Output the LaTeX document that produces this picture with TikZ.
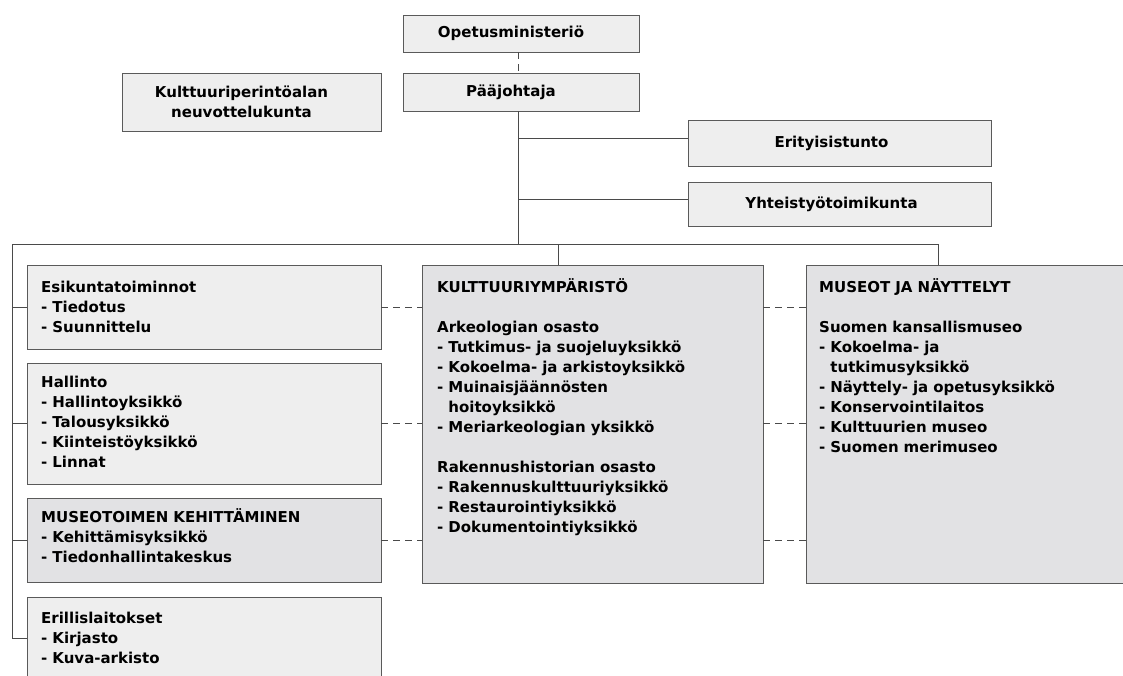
\documentclass[tikz,border=0pt]{standalone}
\usepackage{fontspec}
\setmainfont{DejaVu Sans}
\usetikzlibrary{calc}

\definecolor{boxfill}{HTML}{EEEEEE}
\definecolor{boxdark}{HTML}{E2E2E4}
\definecolor{boxline}{HTML}{5A5A5A}
\definecolor{linecol}{HTML}{4A4A4A}

\newcommand\orgfont{\fontsize{15pt}{20pt}\selectfont\bfseries}

\tikzset{
  unit/.style={draw=boxline, fill=boxfill, line width=.9pt, inner sep=0pt},
  unitdark/.style={unit, fill=boxdark},
  toptxt/.style={align=center, inner sep=0pt, font=\orgfont},
  listtxt/.style={anchor=base west, align=left, text width=330pt, inner sep=0pt, font=\orgfont},
  link/.style={draw=linecol, line width=.9pt},
  dlink/.style={link, dash pattern=on 7pt off 5pt},
}

\begin{document}
\begin{tikzpicture}[x=1pt,y=-1pt]
    \useasboundingbox (0,0) rectangle (1123,675);
    \clip (0,0) rectangle (1123,675);

    % johto
    \node[unit, minimum width=236pt, minimum height=37pt] (opm) at (521,33.5) {};
    \node[toptxt] (opmtxt) at ([xshift=-10pt]opm.center) {Opetusministeriö};
    \node[unit, minimum width=236pt, minimum height=38pt] (paaj) at (521,92) {};
    \node[toptxt] (paajtxt) at ([xshift=-10pt]paaj.center) {Pääjohtaja};
    \node[unit, minimum width=259pt, minimum height=58pt] (neuv) at (251.5,102) {};
    \node[toptxt] (neuvtxt) at ([xshift=-10pt]neuv.center) {Kulttuuriperintöalan\\neuvottelukunta};
    \node[unit, minimum width=303pt, minimum height=46pt] (erit) at (839.5,143) {};
    \node[toptxt] (erittxt) at ([xshift=-8pt]erit.center) {Erityisistunto};
    \node[unit, minimum width=303pt, minimum height=44pt] (yht) at (839.5,204) {};
    \node[toptxt] (yhttxt) at ([xshift=-8pt]yht.center) {Yhteistyötoimikunta};

    % vasen sarake
    \node[unit, minimum width=354pt, minimum height=84pt] (esik) at (204,307) {};
    \node[listtxt] (esiktxt) at (41,292.5)
      {Esikuntatoiminnot\\- Tiedotus\\- Suunnittelu};
    \node[unit, minimum width=354pt, minimum height=121pt] (hall) at (204,423.5) {};
    \node[listtxt] (halltxt) at (41,387)
      {Hallinto\\- Hallintoyksikkö\\- Talousyksikkö\\- Kiinteistöyksikkö\\- Linnat};
    \node[unitdark, minimum width=354pt, minimum height=84pt] (musk) at (204,540) {};
    \node[listtxt] (musktxt) at (41,522)
      {MUSEOTOIMEN KEHITTÄMINEN\\- Kehittämisyksikkö\\- Tiedonhallintakeskus};
    \node[unit, minimum width=354pt, minimum height=82pt] (eril) at (204,638) {};
    \node[listtxt] (eriltxt) at (41,623)
      {Erillislaitokset\\- Kirjasto\\- Kuva-arkisto};

    % osastot
    \node[unitdark, minimum width=341pt, minimum height=318pt] (kult) at (592.5,424) {};
    \node[listtxt] (kulttxt) at (437,292.5)
      {KULTTUURIYMPÄRISTÖ\\[20pt]
       Arkeologian osasto\\- Tutkimus- ja suojeluyksikkö\\- Kokoelma- ja arkistoyksikkö\\
       - Muinaisjäännösten\\\hphantom{- }hoitoyksikkö\\- Meriarkeologian yksikkö\\[20pt]
       Rakennushistorian osasto\\- Rakennuskulttuuriyksikkö\\- Restaurointiyksikkö\\
       - Dokumentointiyksikkö};
    \node[unitdark, minimum width=344pt, minimum height=318pt] (mus) at (978,424) {};
    \node[listtxt] (mustxt) at (819,292.5)
      {MUSEOT JA NÄYTTELYT\\[20pt]
       Suomen kansallismuseo\\- Kokoelma- ja\\\hphantom{- }tutkimusyksikkö\\
       - Näyttely- ja opetusyksikkö\\- Konservointilaitos\\- Kulttuurien museo\\
       - Suomen merimuseo};

    % yhteydet
    \coordinate (trunk) at (518,244);
    \coordinate (rail) at (12,244);
    \coordinate (kultdrop) at (558,244);
    \coordinate (musdrop) at (938,244);
    \draw[dlink] (opm.south -| trunk) -- (paaj.north -| trunk);
    \draw[link] (paaj.south -| trunk) -- (trunk);
    \foreach \b in {erit,yht}
      \draw[link] ([yshift=5pt]\b.west) -- ([yshift=5pt]\b.west -| trunk);
    \draw[link] (eril.west -| rail) -- (rail) -- (musdrop) -- (musdrop |- mus.north);
    \draw[link] (kultdrop) -- (kultdrop |- kult.north);
    \foreach \b in {esik,hall,musk,eril}
      \draw[link] (\b.west -| rail) -- (\b.west);
    \foreach \b in {esik,hall,musk} {
      \draw[dlink] (\b.east) -- (\b.east -| kult.west);
      \draw[dlink] (\b.east -| kult.east) -- (\b.east -| mus.west);
    }
\end{tikzpicture}
\end{document}
